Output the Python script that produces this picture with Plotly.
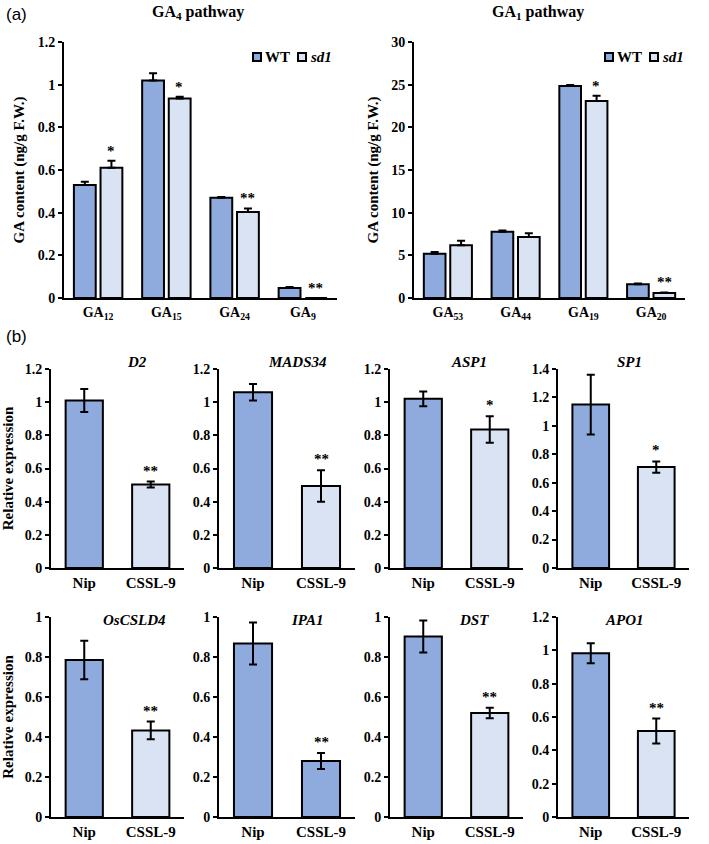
import plotly.graph_objects as go

# ---- data -------------------------------------------------------------
GA4_CATS = ["GA<sub>12</sub>", "GA<sub>15</sub>", "GA<sub>24</sub>", "GA<sub>9</sub>"]
GA4_WT = [0.53, 1.02, 0.47, 0.047]
GA4_WT_ERR = [0.015, 0.033, 0.004, 0.004]
GA4_SD1 = [0.61, 0.935, 0.403, 0.0]
GA4_SD1_ERR = [0.033, 0.008, 0.017, 0.0]
GA4_STARS = ["*", "*", "**", "**"]

GA1_CATS = ["GA<sub>53</sub>", "GA<sub>44</sub>", "GA<sub>19</sub>", "GA<sub>20</sub>"]
GA1_WT = [5.2, 7.75, 24.85, 1.6]
GA1_WT_ERR = [0.2, 0.15, 0.12, 0.1]
GA1_SD1 = [6.17, 7.15, 23.1, 0.6]
GA1_SD1_ERR = [0.55, 0.45, 0.6, 0.05]
GA1_STARS = ["", "", "*", "**"]

GENES = ["D2", "MADS34", "ASP1", "SP1", "OsCSLD4", "IPA1", "DST", "APO1"]
LINES = ["Nip", "CSSL-9"]
NIP = [1.01, 1.06, 1.02, 1.15, 0.785, 0.868, 0.902, 0.982]
NIP_ERR = [0.07, 0.05, 0.044, 0.21, 0.096, 0.105, 0.08, 0.06]
CSSL = [0.503, 0.495, 0.835, 0.71, 0.433, 0.28, 0.52, 0.516]
CSSL_ERR = [0.018, 0.095, 0.08, 0.04, 0.044, 0.04, 0.026, 0.075]
CSSL_STARS = ["**", "**", "*", "*", "**", "**", "**", "**"]
GENE_YMAX = [1.2, 1.2, 1.2, 1.4, 1.0, 1.0, 1.0, 1.2]

# ---- style ------------------------------------------------------------
W, H = 709, 844
WT_BLUE = "#8FAADC"
LIGHT_BLUE = "#DAE3F3"
CSSL_FILL = {"IPA1": WT_BLUE}
SERIF = "Liberation Serif"


def font(size, weight="bold", style="normal", family=SERIF):
    return dict(family=family, size=size, color="black", weight=weight, style=style)


def px_x(v):
    return v / W


def px_y(v):
    return 1 - v / H


fig = go.Figure()
annotations = []


def paper_text(x, y, text, fnt, **kw):
    a = dict(x=px_x(x), y=px_y(y), xref="paper", yref="paper", text=text,
             showarrow=False, font=fnt, xanchor="center", yanchor="middle")
    a.update(kw)
    annotations.append(a)


def axis_pair(n, xdom, ydom, ymax, dtick, cats, ytitle=None, xfont=15):
    suffix = "" if n == 1 else str(n)
    xa = dict(domain=[px_x(xdom[0]), px_x(xdom[1])], anchor=f"y{suffix}",
              showline=True, linecolor="black", linewidth=2, ticks="",
              type="category", categoryorder="array", categoryarray=cats,
              tickfont=font(xfont), automargin=False,
              showgrid=False, zeroline=False, fixedrange=True)
    ya = dict(domain=[px_y(ydom[0]), px_y(ydom[1])], anchor=f"x{suffix}",
              range=[0, ymax], tick0=0, dtick=dtick,
              showline=True, linecolor="black", linewidth=2,
              ticks="outside", ticklen=4, tickwidth=2, tickcolor="black",
              tickfont=font(14), showgrid=False, zeroline=False,
              automargin=False, fixedrange=True)
    if ytitle:
        ya["title"] = dict(text=ytitle, font=font(15), standoff=9)
    fig.layout[f"xaxis{suffix}"] = xa
    fig.layout[f"yaxis{suffix}"] = ya
    return f"x{suffix}", f"y{suffix}"


def err(vals, symmetric=True):
    e = dict(type="data", array=vals, color="black", thickness=2, width=4, visible=True)
    if not symmetric:
        e["symmetric"] = False
        e["arrayminus"] = [0] * len(vals)
    return e


def legend_keys(x0):
    # small outlined squares + labels, like the Excel legend
    for dx, fill, label, style in ((0, WT_BLUE, "WT", "normal"),
                                   (45, LIGHT_BLUE, "sd1", "italic")):
        paper_text(x0 + dx + 4, 57, " ", dict(size=4), width=6, height=6,
                   bgcolor=fill, bordercolor="black", borderwidth=2, borderpad=0)
        paper_text(x0 + dx + 10, 57, label, font(15, style=style), xanchor="left")


# ---- (a) GA content panels -------------------------------------------
top_panels = [
    (1, GA4_CATS, GA4_WT, GA4_WT_ERR, GA4_SD1, GA4_SD1_ERR, GA4_STARS,
     (64, 337), 1.2, 0.2),
    (2, GA1_CATS, GA1_WT, GA1_WT_ERR, GA1_SD1, GA1_SD1_ERR, GA1_STARS,
     (414, 685), 30, 5),
]
for n, cats, wt, wt_e, sd, sd_e, stars, xdom, ymax, dtick in top_panels:
    xr, yr = axis_pair(n, xdom, (298, 42), ymax, dtick, cats,
                       ytitle="GA content (ng/g F.W.)", xfont=14)
    fig.add_trace(go.Bar(x=cats, y=wt, name="WT", xaxis=xr, yaxis=yr, showlegend=False,
                         marker=dict(color=WT_BLUE, line=dict(color="black", width=2)),
                         error_y=err(wt_e, symmetric=False)))
    fig.add_trace(go.Bar(x=cats, y=sd, name="sd1", xaxis=xr, yaxis=yr, showlegend=False,
                         marker=dict(color=LIGHT_BLUE, line=dict(color="black", width=2)),
                         error_y=err(sd_e, symmetric=False)))
    for c, v, e, s in zip(cats, sd, sd_e, stars):
        if s:
            annotations.append(dict(x=c, y=v + e, xref=xr, yref=yr, text=s,
                                    showarrow=False, yanchor="bottom", xshift=13, yshift=0,
                                    font=font(15)))

legend_keys(253)
legend_keys(605)
paper_text(198, 12, "GA<sub>4</sub> pathway", font(16))
paper_text(538, 12, "GA<sub>1</sub> pathway", font(16))
paper_text(4, 14, "(a)", font(17, weight="normal", family="Liberation Sans"), xanchor="left")
paper_text(4, 337, "(b)", font(17, weight="normal", family="Liberation Sans"), xanchor="left")

# ---- (b) relative expression panels ----------------------------------
col_x = [(51, 184), (219, 355), (390, 523), (558, 689)]
row_y = [(568, 369), (817, 617)]
title_x = [[137, 297, 469, 629], [134, 307, 474, 624]]
title_y = [362, 620]
for i, gene in enumerate(GENES):
    r, c = divmod(i, 4)
    n = i + 3
    xr, yr = axis_pair(n, col_x[c], row_y[r], GENE_YMAX[i], 0.2, LINES,
                       ytitle="Relative expression" if c == 0 else None)
    fills = [WT_BLUE, CSSL_FILL.get(gene, LIGHT_BLUE)]
    fig.add_trace(go.Bar(x=LINES, y=[NIP[i], CSSL[i]], xaxis=xr, yaxis=yr,
                         width=0.56, showlegend=False,
                         marker=dict(color=fills, line=dict(color="black", width=2)),
                         error_y=err([NIP_ERR[i], CSSL_ERR[i]])))
    annotations.append(dict(x=LINES[1], y=CSSL[i] + CSSL_ERR[i], xref=xr, yref=yr,
                            text=CSSL_STARS[i], showarrow=False,
                            yanchor="bottom", yshift=1, font=font(15)))
    paper_text(title_x[r][c], title_y[r], gene, font(15, style="italic"))

fig.update_layout(
    width=W, height=H,
    margin=dict(l=0, r=0, t=0, b=0),
    paper_bgcolor="white", plot_bgcolor="white",
    barmode="group", bargap=0.22, bargroupgap=0.18,
    showlegend=False,
    annotations=annotations,
)

# the page body margin would push the fixed-size figure off the window
fig.write_html("out.html", config={"displayModeBar": False},
               post_script="document.body.style.margin = '0';")
